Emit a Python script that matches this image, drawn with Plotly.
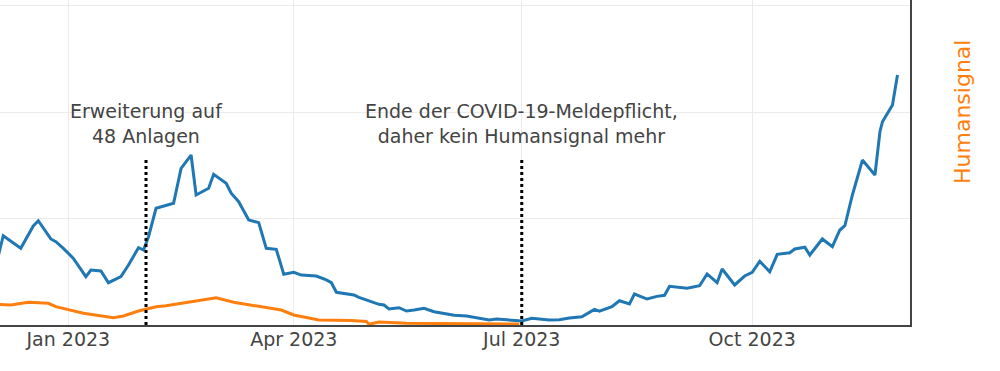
import plotly.graph_objects as go

# Blue series (wastewater signal, left axis)
blue_dates = [
    "2022-12-03", "2022-12-06", "2022-12-13", "2022-12-18", "2022-12-20", "2022-12-25",
    "2022-12-27", "2022-12-30", "2023-01-03", "2023-01-08", "2023-01-10", "2023-01-14",
    "2023-01-17", "2023-01-22", "2023-01-25", "2023-01-29", "2023-01-31", "2023-02-02",
    "2023-02-05", "2023-02-08", "2023-02-12", "2023-02-15", "2023-02-19", "2023-02-21",
    "2023-02-26", "2023-02-28", "2023-03-03", "2023-03-05", "2023-03-07", "2023-03-10",
    "2023-03-14", "2023-03-18", "2023-03-21", "2023-03-25", "2023-03-28", "2023-04-01",
    "2023-04-04", "2023-04-10", "2023-04-14", "2023-04-16", "2023-04-18", "2023-04-25",
    "2023-04-27", "2023-05-05", "2023-05-07", "2023-05-09", "2023-05-13", "2023-05-16",
    "2023-05-19", "2023-05-23", "2023-05-27", "2023-06-04", "2023-06-09", "2023-06-12",
    "2023-06-18", "2023-06-21", "2023-06-28", "2023-07-01", "2023-07-05", "2023-07-12",
    "2023-07-16", "2023-07-20", "2023-07-25", "2023-07-30", "2023-08-01", "2023-08-06",
    "2023-08-09", "2023-08-13", "2023-08-15", "2023-08-20", "2023-08-24", "2023-08-27",
    "2023-08-29", "2023-09-05", "2023-09-10", "2023-09-13", "2023-09-17", "2023-09-19",
    "2023-09-24", "2023-09-28", "2023-10-01", "2023-10-04", "2023-10-08", "2023-10-11",
    "2023-10-16", "2023-10-18", "2023-10-22", "2023-10-24", "2023-10-29", "2023-11-02",
    "2023-11-05", "2023-11-07", "2023-11-10", "2023-11-14", "2023-11-19", "2023-11-21",
    "2023-11-22", "2023-11-26", "2023-11-28",
]
blue_values = [
    55.0, 83.8, 72.0, 93.0, 97.9, 80.8,
    78.2, 72.0, 62.6, 45.4, 51.6, 50.7,
    39.7, 45.4, 56.3, 72.6, 70.4, 82.9,
    109.6, 111.7, 114.3, 147.1, 159.6, 122.1,
    128.4, 141.5, 136.8, 133.1, 123.7, 115.8,
    98.6, 96.1, 72.0, 71.1, 47.6, 49.5,
    46.9, 46.0, 42.3, 39.7, 30.7, 28.2,
    26.0, 19.4, 18.8, 15.0, 16.2, 13.1,
    14.1, 15.7, 12.5, 9.1, 8.5, 7.2,
    4.7, 5.6, 4.4, 3.8, 6.3, 4.7,
    5.0, 6.6, 7.8, 14.7, 13.1, 17.2,
    22.8, 19.7, 29.1, 24.4, 26.9, 27.9,
    36.3, 34.5, 36.9, 47.9, 39.7, 52.6,
    37.6, 46.0, 49.5, 59.8, 50.0, 66.4,
    67.9, 71.4, 73.0, 65.7, 80.8, 73.5,
    89.2, 93.2, 122.1, 154.9, 140.8, 181.5,
    190.9, 206.6, 234.7,
]

# Orange series (Humansignal, right axis)
orange_dates = [
    "2022-12-03", "2022-12-09", "2022-12-16", "2022-12-24", "2022-12-27", "2023-01-02",
    "2023-01-07", "2023-01-19", "2023-01-23", "2023-01-29", "2023-02-05", "2023-02-09",
    "2023-02-19", "2023-03-01", "2023-03-08", "2023-03-19", "2023-03-27", "2023-04-01",
    "2023-04-11", "2023-04-24", "2023-04-30", "2023-05-01", "2023-05-05", "2023-05-16",
    "2023-06-01", "2023-06-30",
]
orange_values = [
    19.5, 18.8, 21.3, 20.4, 17.2, 14.1,
    11.0, 6.9, 8.5, 13.1, 17.2, 18.1,
    21.9, 25.6, 21.3, 17.2, 14.1, 9.4,
    4.7, 4.2, 3.3, 0.7, 2.8, 1.6,
    1.2, 0.9,
]

tick_dates = ["2023-01-01", "2023-04-01", "2023-07-01", "2023-10-01"]
tick_labels = ["Jan 2023", "Apr 2023", "Jul 2023", "Oct 2023"]

event_dates = ["2023-02-01", "2023-07-01"]
event_texts = ["Erweiterung auf<br>48 Anlagen",
               "Ende der COVID-19-Meldepflicht,<br>daher kein Humansignal mehr"]
event_top = 156

BLUE = "#1f77b4"
ORANGE = "#ff7f0e"
FONT = "DejaVu Sans"

fig = go.Figure()
fig.add_trace(go.Scatter(x=blue_dates, y=blue_values, mode="lines",
                         line=dict(color=BLUE, width=3), name="Abwasser", yaxis="y"))
fig.add_trace(go.Scatter(x=orange_dates, y=orange_values, mode="lines",
                         line=dict(color=ORANGE, width=3), name="Humansignal", yaxis="y2"))

for d, t in zip(event_dates, event_texts):
    fig.add_shape(type="line", xref="x", yref="y", x0=d, x1=d, y0=0, y1=event_top,
                  line=dict(color="black", width=3, dash="dot"))
    fig.add_annotation(x=d, y=event_top, xref="x", yref="y", text=t, showarrow=False,
                       yanchor="bottom", yshift=10,
                       font=dict(family=FONT, size=19, color="#444"))

fig.add_annotation(text="Humansignal", xref="paper", yref="paper", x=1.0, y=(325 - 112) / 325,
                   xshift=52, textangle=-90, showarrow=False, xanchor="center", yanchor="middle",
                   font=dict(family=FONT, size=22, color=ORANGE))

fig.update_layout(
    width=1000, height=371,
    margin=dict(l=0, r=90, t=0, b=46),
    paper_bgcolor="white", plot_bgcolor="white",
    showlegend=False,
    font=dict(family=FONT, size=19, color="#444"),
    xaxis=dict(range=["2022-12-04 17:00", "2023-12-03"], tickvals=tick_dates, ticktext=tick_labels,
               showgrid=True, gridcolor="#ebebeb", gridwidth=1,
               showline=True, linecolor="#444", linewidth=1.5, ticks="", zeroline=False,
               ticklabelstandoff=-4,
               automargin=False, tickfont=dict(family=FONT, size=19, color="#444")),
    yaxis=dict(range=[0, 305.2], dtick=100, showgrid=True, gridcolor="#ebebeb", gridwidth=1,
               showline=False, showticklabels=False, zeroline=False, ticks="", automargin=False),
    yaxis2=dict(range=[0, 305.2], overlaying="y", side="right", showgrid=False,
                showline=True, linecolor="#444", linewidth=1.5, showticklabels=False,
                ticks="", zeroline=False, automargin=False),
)

fig.write_html("out.html", config={"displayModeBar": False},
               post_script="document.body.style.margin='0px';")
